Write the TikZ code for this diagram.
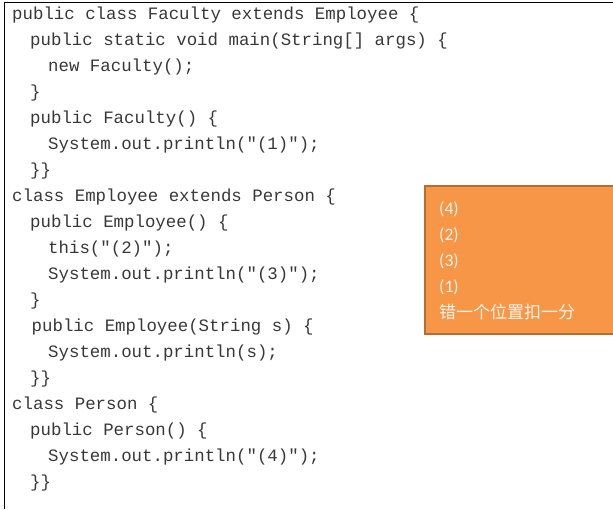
\documentclass[tikz,border=0pt]{standalone}
\usepackage{fontspec}
\usetikzlibrary{positioning}
\newfontfamily\codefont{Liberation Mono}
\newfontfamily\notefont{Carlito}
\newfontfamily\cjkfont{Noto Sans CJK SC}
\definecolor{noteorange}{HTML}{F79646}
\definecolor{noteedge}{HTML}{B66D31}
\definecolor{notetext}{HTML}{FFF4EC}

\begin{document}
\begin{tikzpicture}[x=1pt,y=-1pt]
        % Define styles
        \tikzset{
            code/.style={anchor=base west, inner sep=0pt, text=black!78, font=\codefont\fontsize{17.4}{20}\selectfont},
            frame/.style={line width=1pt, black},
            notebox/.style={draw=noteedge, line width=2pt, fill=noteorange, anchor=north west, minimum width=210pt, minimum height=148pt, inner sep=0pt},
            note/.style={anchor=base west, inner sep=0pt, text=notetext, font=\notefont\fontsize{17.5}{20}\selectfont}
        }
        \useasboundingbox (0,0) rectangle (613,509);
        \clip (0,0) rectangle (613,509);
        % Frame round the listing
        \draw[frame] (4,509) |- (613,2);
        % class Faculty
        \node[code] (l1) at (12,19) {public class Faculty extends Employee \{};
        \node[code] (l2) at (30,45) {public static void main(String[] args) \{};
        \node[code] (l3) at (48,71) {new Faculty();};
        \node[code] (l4) at (30,97) {\}};
        \node[code] (l5) at (30,123) {public Faculty() \{};
        \node[code] (l6) at (48,149) {System.out.println("(1)");};
        \node[code] (l7) at (30,175) {\}\}};
        % class Employee
        \node[code] (l8) at (12,201) {class Employee extends Person \{};
        \node[code] (l9) at (30,227) {public Employee() \{};
        \node[code] (l10) at (48,253) {this("(2)");};
        \node[code] (l11) at (48,279) {System.out.println("(3)");};
        \node[code] (l12) at (30,305) {\}};
        \node[code] (l13) at (31.5,331) {public Employee(String s) \{};
        \node[code] (l14) at (48,357) {System.out.println(s);};
        \node[code] (l15) at (30,383) {\}\}};
        % class Person
        \node[code] (l16) at (12,409) {class Person \{};
        \node[code] (l17) at (30,435) {public Person() \{};
        \node[code] (l18) at (48,461) {System.out.println("(4)");};
        \node[code] (l19) at (30,487) {\}\}};
        % Answer box
        \node[notebox] (answer) at (424,185) {};
        \node[note] (a1) at (439,214) {(4)};
        \node[note] (a2) at (439,240) {(2)};
        \node[note] (a3) at (439,266) {(3)};
        \node[note] (a4) at (439,292) {(1)};
        \node[note, font=\cjkfont\fontsize{17}{20}\selectfont] (a5) at (439,318) {错一个位置扣一分};
    \end{tikzpicture}
\end{document}
